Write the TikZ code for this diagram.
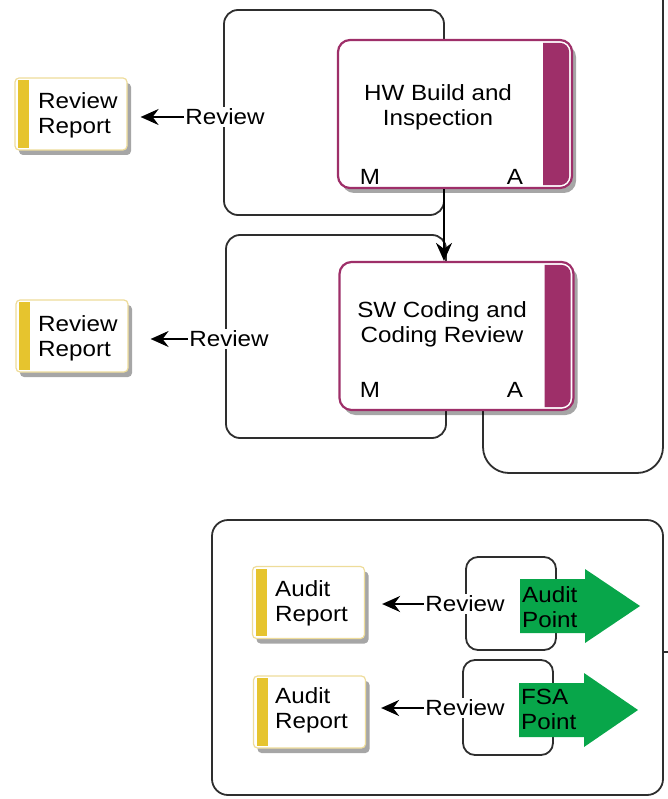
\documentclass[tikz,border=0pt]{standalone}
\usepackage{fontspec}
\setmainfont{Liberation Sans}[FakeStretch=1.1]
\usetikzlibrary{arrows.meta,shadows,calc}
\definecolor{magcol}{HTML}{9E2F69}
\definecolor{barcol}{HTML}{E6C42E}
\definecolor{yedge}{HTML}{EEDC9A}
\definecolor{grn}{HTML}{08A64A}
\definecolor{ln}{HTML}{2E2E2E}
\newcommand\myybar[1]{\fill[fill=barcol] ([xshift=4pt,yshift=-3pt]#1.north west) rectangle ([xshift=15pt,yshift=3pt]#1.south west);}
\newcommand\mymbar[1]{\fill[fill=magcol] ([xshift=-30pt,yshift=-4pt]#1.north east) [rounded corners=9pt] -- ([xshift=-4pt,yshift=-4pt]#1.north east) -- ([xshift=-4pt,yshift=4pt]#1.south east) [sharp corners] -- ([xshift=-30pt,yshift=4pt]#1.south east) -- cycle;}
\begin{document}
\begin{tikzpicture}[x=1pt,y=-1pt,font=\fontsize{22}{25}\selectfont,
  loopline/.style={draw=ln,line width=1.8pt,rounded corners=14pt},
  shade/.style={drop shadow={shadow xshift=4pt,shadow yshift=-5pt,opacity=0.35,fill=black}},
  report/.style={draw=yedge,line width=1.2pt,fill=white,rounded corners=4pt,
    minimum width=112pt,minimum height=72pt,inner sep=0pt,shade},
  task/.style={draw=magcol,line width=2.2pt,fill=white,rounded corners=12pt,
    minimum width=234pt,minimum height=148pt,inner sep=0pt,shade},
  lbl/.style={fill=white,inner sep=1.5pt},
  txt/.style={align=left,anchor=west,inner sep=0pt},
  ctxt/.style={align=center,inner sep=0pt},
  arr/.style={draw=black,line width=2pt,-{Stealth[length=18pt,width=16pt,inset=6pt]}},
]
\useasboundingbox (0,0) rectangle (668,799);

% loops
\draw[loopline] (224,117) -- (224,10) -- (444,10) -- (444,215) -- (224,215) -- cycle;
\draw[loopline] (226,339) -- (226,235) -- (446,235) -- (446,438) -- (226,438) -- cycle;
\draw[loopline,rounded corners=26pt] (483,400) -- (483,473) -- (663,473) -- (663,-5);
\draw[loopline,rounded corners=16pt] (212,520) rectangle (663,795);
\draw[ln,line width=1.2pt] (663,652) -- (668,652);
\draw[loopline,rounded corners=12pt] (466,557) rectangle (556,650);
\draw[loopline,rounded corners=12pt] (463,660) rectangle (553,755);

% task boxes
\node[task] (hw) at (455,114) {};
\mymbar{hw}
\node[ctxt] (hwt) at (438,107) {HW Build and\\Inspection};
\node[ctxt] (hwm) at (370,177) {M};
\node[ctxt] (hwa) at (515,177) {A};

\node[task] (sw) at (456.5,336) {};
\mymbar{sw}
\node[ctxt] (swt) at (442,324) {SW Coding and\\Coding Review};
\node[ctxt] (swm) at (370,390) {M};
\node[ctxt] (swa) at (515,390) {A};

\coordinate (xa) at (444,0);
\draw[arr] (hw.south -| xa) -- (sw.north -| xa);

% review reports
\node[report] (rr1) at (71,114) {};
\myybar{rr1}
\node[txt] (rr1t) at (38,115) {Review\\Report};
\node[report] (rr2) at (72,336) {};
\myybar{rr2}
\node[txt] (rr2t) at (38,338) {Review\\Report};
\node[report] (ar1) at (308.5,602.5) {};
\myybar{ar1}
\node[txt] (ar1t) at (275,603) {Audit\\Report};
\node[report] (ar2) at (309.5,712) {};
\myybar{ar2}
\node[txt] (ar2t) at (275,710) {Audit\\Report};

% green points
\fill[fill=grn] (520,579) -- (585,579) -- (585,569) -- (640,606) -- (585,643) -- (585,633) -- (520,633) -- cycle;
\node[txt] (apt) at (522,607) {Audit\\Point};
\fill[fill=grn] (519,683) -- (584,683) -- (584,673) -- (638,710) -- (584,747) -- (584,737) -- (519,737) -- cycle;
\node[txt] (fpt) at (521,709) {FSA\\Point};

% review labels and arrows
\node[lbl] (rv1) at (225,117) {Review};
\draw[arr,shorten >=13pt] (rv1.west) -- (rr1.east |- rv1.west);
\node[lbl] (rv2) at (229,339) {Review};
\draw[arr,shorten >=22pt] (rv2.west) -- (rr2.east |- rv2.west);
\node[lbl] (rv3) at (465,604) {Review};
\draw[arr,shorten >=17pt] (rv3.west) -- (ar1.east |- rv3.west);
\node[lbl] (rv4) at (465,708) {Review};
\draw[arr,shorten >=15pt] (rv4.west) -- (ar2.east |- rv4.west);
\end{tikzpicture}
\end{document}
